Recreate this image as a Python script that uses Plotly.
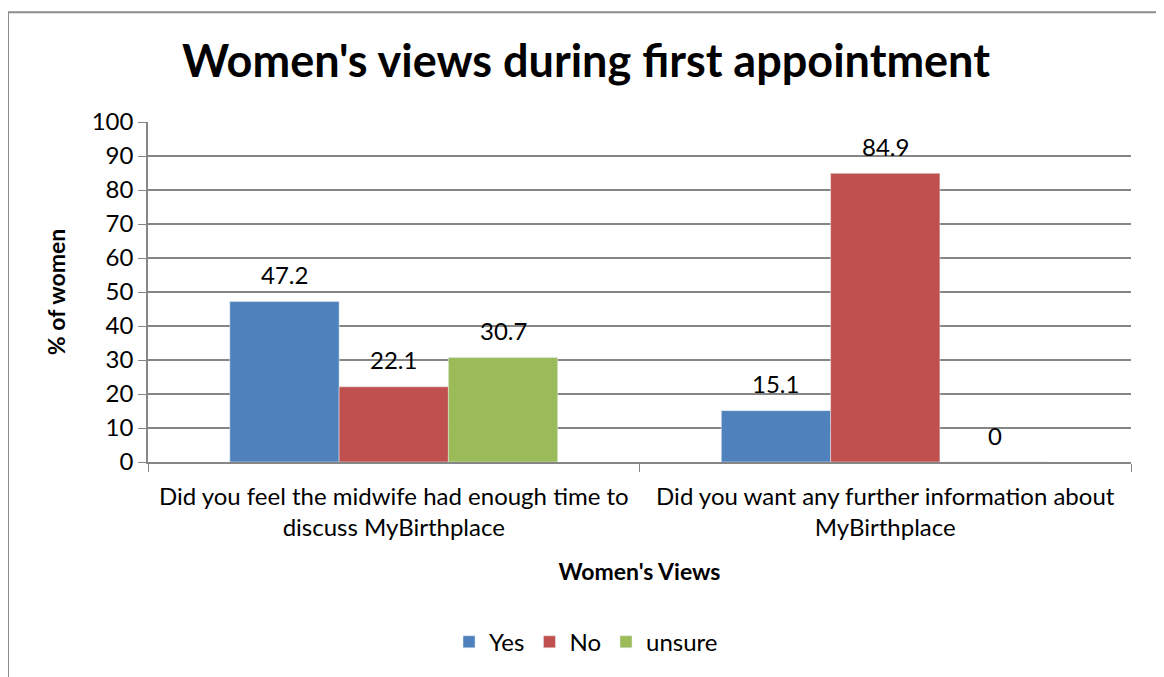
import plotly.graph_objs as go

questions = [
    "Did you feel the midwife had enough time to<br>discuss MyBirthplace",
    "Did you want any further information about<br>MyBirthplace",
]
series_names = ["Yes", "No", "unsure"]
yes_vals = [47.2, 15.1]
no_vals = [22.1, 84.9]
unsure_vals = [30.7, 0]
colors = ["#4F81BD", "#C0504D", "#9BBB59"]

font_name = "Lato, Open Sans, sans-serif"
plot_w = 983
bargap = 0.333

fig = go.Figure()
all_vals = [yes_vals, no_vals, unsure_vals]
for name, vals, color in zip(series_names, all_vals, colors):
    fig.add_trace(go.Bar(name=name, x=questions, y=vals, marker_color=color))

# value labels above bars (Excel style, with a gap)
bar_px = plot_w / len(questions) * (1 - bargap) / len(series_names)
for i, vals in enumerate(all_vals):
    for q, v in zip(questions, vals):
        fig.add_annotation(x=q, y=v, text=f"{v:g}", showarrow=False,
                           xshift=(i - 1) * bar_px, yshift=27, yanchor="middle",
                           font=dict(size=24, color="black"))

fig.update_layout(
    width=1156, height=669,
    margin=dict(l=140, r=33, t=114, b=215),
    paper_bgcolor="white", plot_bgcolor="white",
    font=dict(family=font_name, size=24, color="black"),
    title=dict(text="<b>Women's views during first appointment</b>",
               x=0.5, xanchor="center", y=0.92, yanchor="middle",
               font=dict(size=45)),
    barmode="group", bargap=bargap, bargroupgap=0,
    showlegend=True,
    legend=dict(orientation="h", x=0.4456, xanchor="center", y=-0.53, yanchor="middle",
                font=dict(size=24), traceorder="normal", itemwidth=30),
    xaxis=dict(
        title=dict(text="<b>Women's Views</b>", font=dict(size=23), standoff=24),
        showline=True, linecolor="#868686", linewidth=1.5,
        ticks="outside", tickson="boundaries", ticklen=8, tickcolor="#868686",
        tickfont=dict(size=24), ticklabelstandoff=12,
    ),
    yaxis=dict(
        title=dict(text="<b>% of women</b>", font=dict(size=23), standoff=20),
        range=[0, 100], dtick=10,
        showline=True, linecolor="#868686", linewidth=1.5,
        showgrid=True, gridcolor="#868686", gridwidth=1.5,
        ticks="outside", ticklen=8, tickcolor="#868686",
        tickfont=dict(size=24),
    ),
)

fig.add_shape(type="rect", xref="paper", yref="paper",
              x0=-0.1424, x1=1.0295, y0=-0.7, y1=1.323,
              line=dict(color="#8C8C8C", width=2))

fig.write_html("out.html")
